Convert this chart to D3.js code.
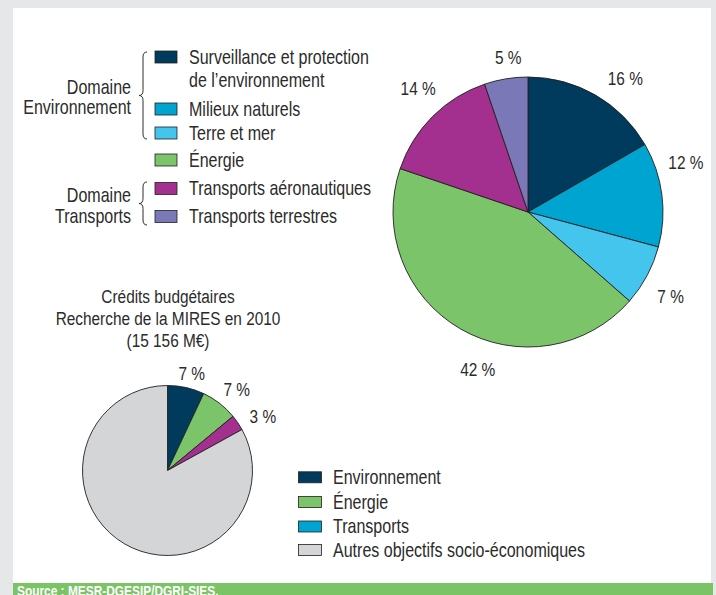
<!DOCTYPE html>
<html>
<head>
<meta charset="utf-8">
<script src="https://cdn.jsdelivr.net/npm/d3@7/dist/d3.min.js"></script>
<style>
  html, body { margin: 0; padding: 0; background: #e6e7e8; }
  svg { display: block; }
  text { font-family: "Liberation Sans", Arial, sans-serif; fill: #2b2b2b; }
</style>
</head>
<body>
<svg id="chart" width="716" height="595"></svg>
<script>
// Breakdown of research credits (environment, energy, transport domains)
const detailCategories = [
  "Surveillance et protection\nde l\u2019environnement",
  "Milieux naturels",
  "Terre et mer",
  "\u00c9nergie",
  "Transports a\u00e9ronautiques",
  "Transports terrestres"
];
const detailValues = [16, 12, 7, 42, 14, 5];
const detailLabels = ["16 %", "12 %", "7 %", "42 %", "14 %", "5 %"];
const detailColors = ["#003a5c", "#00a4d1", "#43c5ee", "#7bc46a", "#a32f8e", "#7b78b8"];

// Share of total MIRES research credits, 2010
const totalCategories = ["Environnement", "\u00c9nergie", "Transports", "Autres objectifs socio-\u00e9conomiques"];
const totalLegendColors = ["#003a5c", "#7bc46a", "#00a4d1", "#d4d5d7"];
const totalValues = [7, 7, 3, 83];
const totalLabels = ["7 %", "7 %", "3 %", ""];
const totalSliceColors = ["#003a5c", "#7bc46a", "#a32f8e", "#d4d5d7"];

const titleLines = ["Cr\u00e9dits budg\u00e9taires", "Recherche de la MIRES en 2010", "(15 156 M\u20ac)"];
const sourceText = "Source : MESR-DGESIP/DGRI-SIES.";

const svg = d3.select("#chart");
const W = 716, H = 595;
const FS = 19;        // title and value labels
const FS_LEG = 19.8;  // legend entries
const NARROW = 0.81;  // horizontal condensing of the type

// Writes condensed text: one <text> per line, squeezed horizontally around its anchor.
function narrowText(parent, x, y, lines, opts = {}) {
  const size = opts.size || FS;
  const lineH = opts.lineH || 21.7;
  const anchor = opts.anchor || "start";
  const g = parent.append("g").attr("transform", `translate(${x},${y}) scale(${NARROW},1)`);
  lines.forEach((line, j) => {
    const t = g.append("text")
      .attr("x", 0).attr("y", j * lineH)
      .attr("dy", opts.dy == null ? "0.35em" : opts.dy)
      .attr("text-anchor", anchor)
      .style("font-size", size + "px")
      .text(line);
    if (opts.bold) t.style("font-weight", "bold");
    if (opts.fill) t.style("fill", opts.fill);
  });
  return g;
}

// frame
svg.append("rect").attr("width", W).attr("height", H).attr("fill", "#e6e7e8");
svg.append("rect").attr("x", 13).attr("y", 8).attr("width", 698).attr("height", H - 8).attr("fill", "#ffffff");
svg.append("rect").attr("x", 13).attr("y", 583).attr("width", 700).attr("height", 12).attr("fill", "#7bc465");
narrowText(svg, 17, 595.5, [sourceText], { size: 14.7, bold: true, fill: "#ffffff", dy: 0 });

const stroke = "#231f20";
const pie = d3.pie().sort(null).value(d => d);

// ---- main pie
const big = { cx: 528, cy: 212, r: 135 };
const bigArc = d3.arc().innerRadius(0).outerRadius(big.r);
// small angular adjustments (degrees) that keep labels clear of each other
const bigLabelShift = [6, -10, 2.4, -12.3, 3.4, 2.1];
const bigLabelR = [165.5, 165.5, 165.5, 165.5, 165.5, 156];

const gBig = svg.append("g").attr("transform", `translate(${big.cx},${big.cy})`);
const bigArcs = pie(detailValues);
gBig.selectAll("path").data(bigArcs).join("path")
  .attr("d", bigArc)
  .attr("fill", (d, i) => detailColors[i])
  .attr("stroke", stroke).attr("stroke-width", 0.9).attr("stroke-linejoin", "round");

bigArcs.forEach((d, i) => {
  const a = (d.startAngle + d.endAngle) / 2 + bigLabelShift[i] * Math.PI / 180;
  narrowText(gBig, bigLabelR[i] * Math.sin(a), -bigLabelR[i] * Math.cos(a), [detailLabels[i]], { anchor: "middle" });
});

// ---- main legend
const leg1 = { swX: 155, swW: 22, swH: 12, textX: 189, rows: [57, 109, 133, 160, 188.5, 216.5], lineH: 22.6 };
const gLeg1 = svg.append("g");
detailCategories.forEach((name, i) => {
  const y = leg1.rows[i];
  gLeg1.append("rect")
    .attr("x", leg1.swX).attr("y", y - leg1.swH / 2)
    .attr("width", leg1.swW).attr("height", leg1.swH)
    .attr("fill", detailColors[i]).attr("stroke", stroke).attr("stroke-width", 0.8);
  narrowText(gLeg1, leg1.textX, y, name.split("\n"), { lineH: leg1.lineH, size: FS_LEG });
});

// domain groupings with braces
const domains = [
  { lines: ["Domaine", "Environnement"], top: 52, bottom: 139, textY: 86.7 },
  { lines: ["Domaine", "Transports"], top: 182, bottom: 225, textY: 195 }
];
const braceX = 143;
domains.forEach(dm => {
  narrowText(svg, 131, dm.textY, dm.lines, { anchor: "end", lineH: 20.6, size: FS_LEG });
  const mid = (dm.top + dm.bottom) / 2;
  const p = d3.path();
  p.moveTo(braceX + 4, dm.top);
  p.quadraticCurveTo(braceX, dm.top, braceX, dm.top + 5);
  p.lineTo(braceX, mid - 5);
  p.quadraticCurveTo(braceX, mid, braceX - 4, mid);
  p.quadraticCurveTo(braceX, mid, braceX, mid + 5);
  p.lineTo(braceX, dm.bottom - 5);
  p.quadraticCurveTo(braceX, dm.bottom, braceX + 4, dm.bottom);
  svg.append("path").attr("d", p.toString()).attr("fill", "none")
    .attr("stroke", "#2d2d2d").attr("stroke-width", 1);
});

// ---- secondary pie
const small = { cx: 167.5, cy: 470.5, r: 85 };
const smallArc = d3.arc().innerRadius(0).outerRadius(small.r);
const smallLabelShift = [1.3, 2.6, 4.8, 0];
const smallLabelR = [100.5, 106.8, 109.4, 0];
const gSmall = svg.append("g").attr("transform", `translate(${small.cx},${small.cy})`);
const smallArcs = pie(totalValues);
gSmall.selectAll("path").data(smallArcs).join("path")
  .attr("d", smallArc)
  .attr("fill", (d, i) => totalSliceColors[i])
  .attr("stroke", stroke).attr("stroke-width", 0.9).attr("stroke-linejoin", "round");
smallArcs.forEach((d, i) => {
  if (!totalLabels[i]) return;
  const a = (d.startAngle + d.endAngle) / 2 + smallLabelShift[i] * Math.PI / 180;
  narrowText(gSmall, smallLabelR[i] * Math.sin(a), -smallLabelR[i] * Math.cos(a), [totalLabels[i]], { anchor: "middle" });
});

// title
narrowText(svg, 168, 296.7, titleLines, { anchor: "middle", lineH: 21.7 });

// secondary legend
const leg2 = { swX: 298.5, swW: 23, swH: 11, textX: 333, rows: [477.3, 502, 526.5, 550] };
totalCategories.forEach((name, i) => {
  const y = leg2.rows[i];
  svg.append("rect")
    .attr("x", leg2.swX).attr("y", y - leg2.swH / 2)
    .attr("width", leg2.swW).attr("height", leg2.swH)
    .attr("fill", totalLegendColors[i]).attr("stroke", stroke).attr("stroke-width", 0.8);
  narrowText(svg, leg2.textX, y, [name], { size: FS_LEG });
});
</script>
</body>
</html>
